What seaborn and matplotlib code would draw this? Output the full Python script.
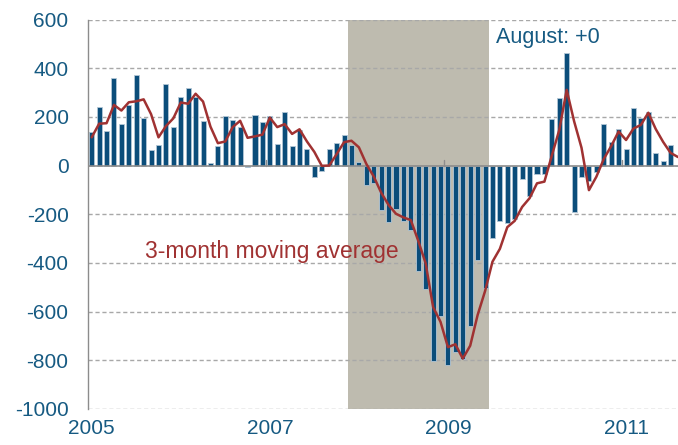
import numpy as np
import pandas as pd
import matplotlib
matplotlib.use("Agg")
import matplotlib.pyplot as plt
import seaborn as sns

# monthly change in payrolls, thousands, Jan 2005 .. Aug 2011
payrolls = [
    137, 241, 144, 361, 172, 248, 371, 197, 64, 86, 335, 160,        # 2005
    282, 320, 283, 185, 11, 81, 204, 189, 159, -6, 207, 181,         # 2006
    203, 89, 219, 81, 148, 68, -48, -23, 70, 93, 126, 86,            # 2007
    14, -79, -70, -184, -231, -178, -229, -266, -433, -508, -801, -617,  # 2008
    -821, -764, -795, -661, -387, -501, -297, -228, -234, -220, -56, -127,  # 2009
    -36, -34, 193, 278, 461, -192, -49, -62, -27, 171, 96, 152,      # 2010
    68, 237, 197, 218, 53, 19, 85, 0,                                # 2011
]
# 3-month moving average line as drawn
moving_avg = [
    116, 172, 174, 249, 226, 260, 264, 272, 211, 116, 162, 194,
    259, 254, 295, 263, 160, 92, 99, 158, 184, 114, 120, 127,
    197, 158, 170, 130, 149, 99, 56, -1, 0, 47, 96, 102,
    75, 7, -45, -111, -162, -198, -213, -224, -309, -402, -581, -642,
    -746, -734, -793, -740, -614, -516, -395, -342, -253, -227, -170, -134,
    -73, -66, 41, 146, 311, 182, 73, -101, -46, 27, 80, 140,
    105, 152, 167, 217, 150, 97, 52, 35,
]
year_labels = ["2005", "2007", "2009", "2011"]
y_ticks = [600, 400, 200, 0, -200, -400, -600, -800, -1000]
recession = ("2007-12", "2009-06")

months = pd.period_range("2005-01", periods=len(payrolls), freq="M")
df = pd.DataFrame({"idx": np.arange(len(payrolls)), "change": payrolls,
                   "avg": moving_avg})

sns.set_style("white")
plt.rcParams["font.family"] = ["Liberation Sans", "DejaVu Sans"]

blue = "#0b4d7a"
red = "#a03232"
txt_blue = "#165a82"

fig = plt.figure(figsize=(6.78, 4.45), dpi=100)
ax = fig.add_axes([88 / 678, 36 / 445, 590 / 678, 389.5 / 445])

# recession shading
r0 = months.get_loc(pd.Period(recession[0], "M")) - 0.5
r1 = months.get_loc(pd.Period(recession[1], "M")) + 0.5
ax.axvspan(r0, r1, color="#bebbaf", zorder=0, lw=0)

# gridlines
for v in y_ticks:
    if v != 0:
        ax.axhline(v, color="#a8a8a8", lw=1, ls=(0, (3, 2)), zorder=1)

sns.barplot(data=df, x="idx", y="change", native_scale=True, width=0.68,
            color=blue, saturation=1, edgecolor="#b3c7d6", linewidth=0.6,
            ax=ax, zorder=2)

ax.axhline(0, color="#8c8c8c", lw=1.2, zorder=3)
# small ticks on the zero line at the labelled years
for i in range(24, len(payrolls), 24):
    ax.plot([i - 0.5, i - 0.5], [0, 22], color="#8c8c8c", lw=1, zorder=3)

sns.lineplot(data=df, x="idx", y="avg", color=red, lw=1.8, ax=ax, zorder=4)

ax.set_xlim(-0.5, 79.0)
ax.set_ylim(-1000, 600)
ax.set_yticks(y_ticks)
ax.set_yticklabels([str(v) for v in y_ticks])
ax.set_xticks([0, 24, 48, 72])
ax.set_xticklabels(year_labels)
ax.tick_params(axis="y", length=0, pad=14, labelsize=15, labelcolor=txt_blue)
ax.tick_params(axis="x", length=0, pad=7, labelsize=15, labelcolor=txt_blue)
ax.set_xlabel("")
ax.set_ylabel("")

for s in ["top", "right", "bottom"]:
    ax.spines[s].set_visible(False)
ax.spines["left"].set_color("#8c8c8c")
ax.spines["left"].set_linewidth(1)

ax.text(54.5, 525, "August: +0", fontsize=15.5, color=txt_blue,
        ha="left", va="center", zorder=5)
ax.text(7.2, -352, "3-month moving average", fontsize=16.5, color=red,
        ha="left", va="center", zorder=5)

fig.savefig("out.png", dpi=100)
